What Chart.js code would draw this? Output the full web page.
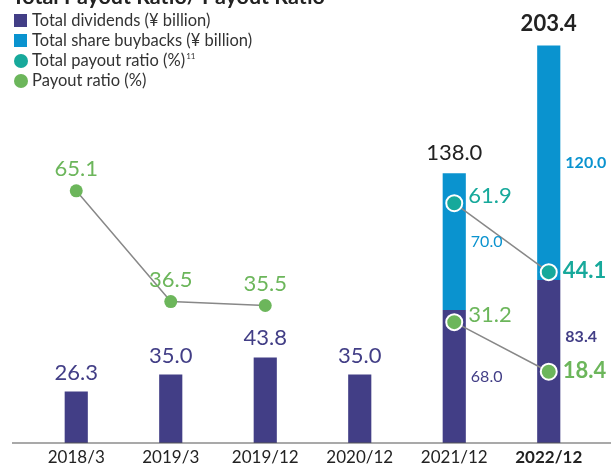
<!DOCTYPE html>
<html>
<head>
<meta charset="utf-8">
<script src="https://cdn.jsdelivr.net/npm/chart.js@4.4.1/dist/chart.umd.min.js"></script>
<style>
  body { margin: 0; background: #fff; }
  #wrap { position: relative; width: 611px; height: 465px; }
</style>
</head>
<body>
<div id="wrap"><canvas id="Chart"></canvas></div>
<script>
const periods = ['2018/3', '2019/3', '2019/12', '2020/12', '2021/12', '2022/12'];
const dividends = [26.3, 35.0, 43.8, 35.0, 68.0, 83.4];
const buybacks = [null, null, null, null, 70.0, 120.0];
const totals = [null, null, null, null, 138.0, 203.4];
const totalPayoutRatio = [null, null, null, null, 61.9, 44.1];
const payoutRatio = [65.1, 36.5, 35.5, null, 31.2, 18.4];

const INDIGO = '#423e86';
const BLUE = '#0a93cf';
const TEAL = '#17a99b';
const GREEN = '#6cb65b';
const FONT = 'Lato, "Noto Sans", sans-serif';

const lastIdx = periods.length - 1;

// legend, title, value labels and the long baseline
const decorations = {
  id: 'decorations',
  afterDatasetsDraw(chart) {
    const c = chart.ctx;
    const ds = chart.data.datasets;
    const meta = ds.map((d, i) => chart.getDatasetMeta(i));

    function text(str, x, y, color, size, bold, align) {
      c.font = (bold ? 'bold ' : '') + size + 'px ' + FONT;
      c.fillStyle = color;
      c.textAlign = align || 'center';
      c.textBaseline = 'middle';
      c.fillText(str, x, y);
    }

    c.save();

    // baseline across the whole width
    const base = chart.scales.y.getPixelForValue(0);
    c.strokeStyle = '#555';
    c.lineWidth = 1.2;
    c.beginPath();
    c.moveTo(12, base);
    c.lineTo(611, base);
    c.stroke();

    // bars
    meta[0].data.forEach((el, i) => {
      const bold = i === lastIdx;
      if (buybacks[i] == null) {
        text(dividends[i].toFixed(1), el.x, el.y - 19, INDIGO, 22, false);
      } else {
        let y = (el.y + el.base) / 2;
        const p = meta[3].data[i];
        if (payoutRatio[i] != null && Math.abs(p.y - y) < 30) y = p.y - 35;
        text(dividends[i].toFixed(1), el.x + el.width / 2 + 5, y, INDIGO, 16, bold, 'left');
      }
    });
    meta[1].data.forEach((el, i) => {
      if (buybacks[i] == null) return;
      const bold = i === lastIdx;
      text(buybacks[i].toFixed(1), el.x + el.width / 2 + 5, (el.y + el.base) / 2, BLUE, 16, bold, 'left');
      text(totals[i].toFixed(1), el.x, el.y - (bold ? 22 : 20), '#222', 22, bold);
    });

    // line labels
    [[2, TEAL, totalPayoutRatio], [3, GREEN, payoutRatio]].forEach(([di, color, vals]) => {
      meta[di].data.forEach((pt, i) => {
        if (vals[i] == null) return;
        const bold = i === lastIdx;
        if (buybacks[i] == null) {
          text(vals[i].toFixed(1), pt.x, pt.y - 22, color, 22, false);
        } else {
          text(vals[i].toFixed(1), pt.x + 14, pt.y - (bold ? 1 : 7), color, 22, bold, 'left');
        }
      });
    });

    // title (cut by the top edge)
    c.font = 'bold 21.5px ' + FONT;
    c.fillStyle = '#222';
    c.textAlign = 'left';
    c.textBaseline = 'alphabetic';
    c.fillText('Total Payout Ratio/ Payout Ratio', 12, 4);

    // legend
    ds.forEach((d, i) => {
      const y = 21 + i * 20;
      c.fillStyle = d.legendColor;
      if (d.type === 'line') {
        c.beginPath();
        c.arc(21, y, 7, 0, Math.PI * 2);
        c.fill();
      } else {
        c.fillRect(14, y - 7, 13, 13);
      }
      c.font = '16.5px ' + FONT;
      c.fillStyle = '#333';
      c.textAlign = 'left';
      c.textBaseline = 'middle';
      c.fillText(d.label, 32, y);
      if (d.note) {
        const w = c.measureText(d.label).width;
        c.font = '8px ' + FONT;
        c.fillText(d.note, 32 + w + 1, y - 5);
      }
    });

    c.restore();
  }
};

const xTickFont = ctx => ({ family: FONT, size: 17, weight: ctx.index === lastIdx ? 'bold' : 'normal' });

new Chart(document.getElementById('Chart'), {
  data: {
    labels: periods,
    datasets: [{
      type: 'bar',
      label: 'Total dividends (¥ billion)',
      data: dividends,
      backgroundColor: INDIGO,
      legendColor: INDIGO,
      stack: 's',
      yAxisID: 'y',
      order: 3
    }, {
      type: 'bar',
      label: 'Total share buybacks (¥ billion)',
      data: buybacks,
      backgroundColor: BLUE,
      legendColor: BLUE,
      stack: 's',
      yAxisID: 'y',
      order: 3
    }, {
      type: 'line',
      label: 'Total payout ratio (%)',
      note: '11',
      data: totalPayoutRatio,
      borderColor: '#888',
      borderWidth: 1.5,
      pointBackgroundColor: TEAL,
      pointBorderColor: '#fff',
      pointBorderWidth: 2,
      pointRadius: 8,
      legendColor: TEAL,
      yAxisID: 'y2',
      order: 1
    }, {
      type: 'line',
      label: 'Payout ratio (%)',
      data: payoutRatio,
      borderColor: '#888',
      borderWidth: 1.5,
      pointBackgroundColor: GREEN,
      pointBorderColor: '#fff',
      pointBorderWidth: ctx => (buybacks[ctx.dataIndex] == null ? 0 : 2),
      pointRadius: ctx => (buybacks[ctx.dataIndex] == null ? 6.5 : 8),
      legendColor: GREEN,
      yAxisID: 'y2',
      order: 2
    }]
  },
  options: {
    responsive: true,
    maintainAspectRatio: false,
    animation: false,
    spanGaps: false,
    layout: { padding: { left: 29, right: 15, top: 13, bottom: 0 } },
    datasets: { bar: { barPercentage: 0.49, categoryPercentage: 0.5 } },
    plugins: {
      legend: { display: false },
      tooltip: { enabled: false }
    },
    scales: {
      x: {
        stacked: true,
        grid: { display: false, drawTicks: false },
        border: { display: false },
        ticks: { color: '#222', padding: 4, font: xTickFont },
        afterFit: s => { s.height = 22; }
      },
      y: { stacked: true, display: false, min: 0, max: 220 },
      y2: { display: false, min: 0, max: 111 }
    }
  },
  plugins: [decorations]
});
</script>
</body>
</html>
